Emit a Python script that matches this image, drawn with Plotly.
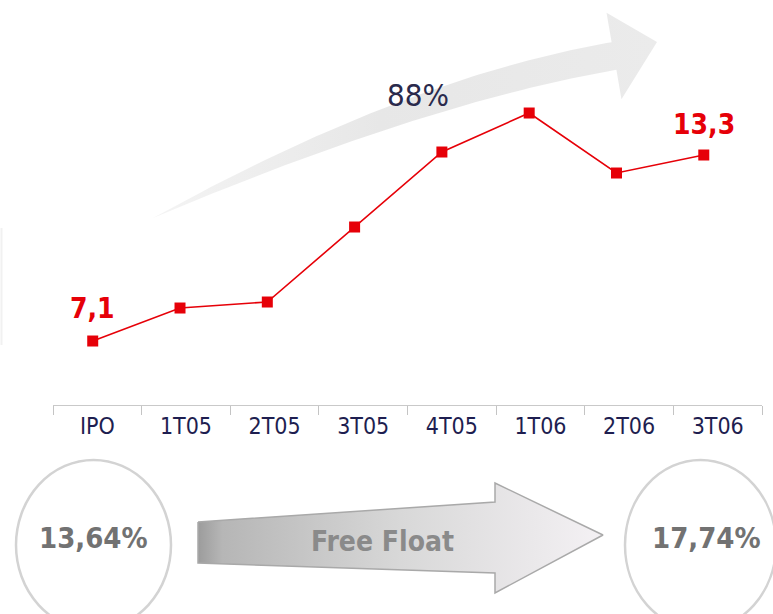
import numpy as np
import plotly.graph_objects as go

# ---- data -------------------------------------------------------------
periods = ["IPO", "1T05", "2T05", "3T05", "4T05", "1T06", "2T06", "3T06"]
values = [7.1, 8.2, 8.4, 10.9, 13.4, 14.7, 12.7, 13.3]
growth_text = "88%"
float_start = "13,64%"
float_end = "17,74%"
float_caption = "Free Float"

W, H = 773, 614
FONT = "DejaVu Sans Condensed, DejaVu Sans, sans-serif"
RED = "#e60008"
NAVY = "#1e1e50"


def fmt(v):
    return f"{v:.1f}".replace(".", ",")


fig = go.Figure()

# ---- main line --------------------------------------------------------
fig.add_trace(go.Scatter(
    x=periods, y=values, mode="lines+markers",
    line=dict(color=RED, width=1.6),
    marker=dict(symbol="square", size=11, color=RED),
    xaxis="x", yaxis="y", showlegend=False, hoverinfo="skip",
))
# category axis that carries the period labels and boundary ticks
fig.add_trace(go.Scatter(
    x=periods, y=values, mode="markers", marker=dict(opacity=0),
    xaxis="x3", yaxis="y", showlegend=False, hoverinfo="skip",
))

# ---- decorative layer in pixel space (x2 / y2) ------------------------
# curved growth arrow: quadratic Bezier centre line with widening band
P0, P1, P2 = np.array([153.0, 218.0]), np.array([416.5, 90.0]), np.array([614.0, 56.0])
t = np.linspace(0, 1, 80)[:, None]
centre = (1 - t) ** 2 * P0 + 2 * t * (1 - t) * P1 + t ** 2 * P2
tang = 2 * (1 - t) * (P1 - P0) + 2 * t * (P2 - P1)
tang /= np.linalg.norm(tang, axis=1)[:, None]
normal = np.column_stack([tang[:, 1], -tang[:, 0]])
half = 14 * (1 - (1 - t) ** 2.2)
upper = centre + half * normal
lower = centre - half * normal
head_top = P2 + 44 * normal[-1]
head_bot = P2 - 44 * normal[-1]
tip = np.array([657.0, 42.0])
poly = np.vstack([upper, head_top, tip, head_bot, lower[::-1]])
fig.add_trace(go.Scatter(
    x=poly[:, 0], y=poly[:, 1], mode="lines", fill="toself",
    line=dict(width=0, color="rgba(0,0,0,0)"),
    fillgradient=dict(type="horizontal",
                      colorscale=[[0, "#f4f4f4"], [0.45, "#e7e7e7"], [1, "#ebebeb"]]),
    xaxis="x2", yaxis="y2", showlegend=False, hoverinfo="skip",
))

# block arrow for the free float change
bx = [198, 495, 495, 603, 495, 495, 198, 198]
by = [522, 502, 483, 535, 593, 573, 563, 522]
fig.add_trace(go.Scatter(
    x=bx, y=by, mode="lines", fill="toself",
    line=dict(width=1.5, color="#a9a9a9"),
    fillgradient=dict(type="horizontal",
                      colorscale=[[0, "#9c9c9c"], [0.06, "#b6b6b6"], [0.5, "#d8d8d8"],
                                  [1, "#f4f1f4"]]),
    xaxis="x2", yaxis="y2", showlegend=False, hoverinfo="skip",
))

shapes = [
    dict(type="circle", xref="x2", yref="y2", x0=16, x1=171, y0=460, y1=630,
         line=dict(color="#d3d3d3", width=2.5), fillcolor="rgba(0,0,0,0)"),
    dict(type="circle", xref="x2", yref="y2", x0=625, x1=776, y0=460, y1=630,
         line=dict(color="#d3d3d3", width=2.5), fillcolor="rgba(0,0,0,0)"),
    dict(type="line", xref="x2", yref="y2", x0=1.5, x1=1.5, y0=228, y1=345,
         line=dict(color="#f1f1f1", width=2)),
]

annotations = [
    dict(xref="x2", yref="y2", x=418, y=95, text=growth_text, showarrow=False,
         font=dict(family=FONT, size=31, color="#2a2a4c")),
    dict(xref="x", yref="y", x=periods[0], y=values[0], yshift=33,
         text=f"<b>{fmt(values[0])}</b>", showarrow=False,
         font=dict(family=FONT, size=28, color=RED)),
    dict(xref="x", yref="y", x=periods[-1], y=values[-1], yshift=31,
         text=f"<b>{fmt(values[-1])}</b>", showarrow=False,
         font=dict(family=FONT, size=28, color=RED)),
    dict(xref="x2", yref="y2", x=93, y=538, text=f"<b>{float_start}</b>", showarrow=False,
         font=dict(family=FONT, size=29, color="#727272")),
    dict(xref="x2", yref="y2", x=706, y=538, text=f"<b>{float_end}</b>", showarrow=False,
         font=dict(family=FONT, size=29, color="#727272")),
    dict(xref="x2", yref="y2", x=382, y=541, text=f"<b>{float_caption}</b>", showarrow=False,
         font=dict(family=FONT, size=28, color="#8a8a8a")),
]

dom_x = [53 / W, 762 / W]
fig.update_layout(
    width=W, height=H,
    margin=dict(l=0, r=0, t=0, b=0),
    paper_bgcolor="white", plot_bgcolor="rgba(0,0,0,0)",
    xaxis=dict(type="category", domain=dom_x, range=[-0.455, 7.667], visible=False,
               anchor="y"),
    yaxis=dict(domain=[209 / H, 1], range=[4.967, 18.467], visible=False, anchor="x"),
    xaxis3=dict(type="category", domain=dom_x, range=[-0.5, 7.5], overlaying="x",
                anchor="y", side="bottom", showline=True, linecolor="#c9c9c9",
                linewidth=1, ticks="outside", tickson="boundaries", ticklen=9,
                tickcolor="#c4c4c4", tickwidth=1, showgrid=False,
                tickfont=dict(family=FONT, size=23, color=NAVY)),
    xaxis2=dict(domain=[0, 1], range=[0, W], visible=False, anchor="y2"),
    yaxis2=dict(domain=[0, 1], range=[H, 0], visible=False, anchor="x2"),
    shapes=shapes,
    annotations=annotations,
)

fig.write_html("out.html")
